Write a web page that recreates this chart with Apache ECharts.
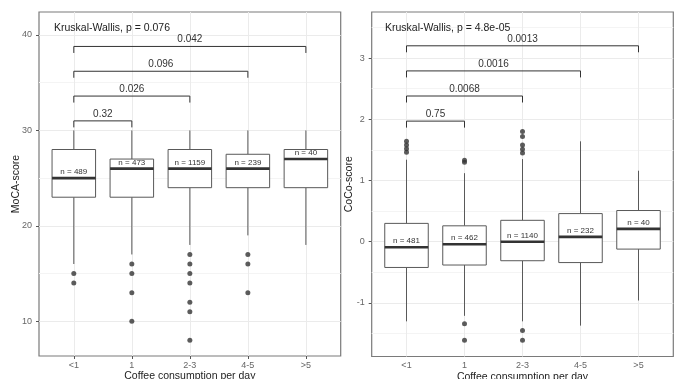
<!DOCTYPE html>
<html>
<head>
<meta charset="utf-8">
<script src="https://cdn.jsdelivr.net/npm/echarts@6/dist/echarts.min.js"></script>
<style>
  html, body { margin: 0; padding: 0; background: #fff; }
  #chart { width: 676px; height: 379px; }
</style>
</head>
<body>
<div id="chart"></div>
<script>
// categories on the x axis (placed at 1..5 on a value axis, ggplot style padding)
const categories = ['<1', '1', '2-3', '4-5', '>5']
const catPos = [1, 2, 3, 4, 5]

// MoCA panel: [x, lower whisker, Q1, median, Q3, upper whisker]
const mocaBoxes = [
  [1, 16, 23, 25, 28, 30],
  [2, 17, 23, 26, 27, 30],
  [3, 18, 24, 26, 28, 30],
  [4, 19, 24, 26, 27.5, 30],
  [5, 18, 24, 27, 28, 30]
]
const mocaN = [489, 473, 1159, 239, 40]
const mocaOutliers = [
  [1, 15], [1, 14],
  [2, 16], [2, 15], [2, 13], [2, 10],
  [3, 17], [3, 16], [3, 15], [3, 14], [3, 12], [3, 11], [3, 8],
  [4, 17], [4, 16], [4, 13]
]
// brackets: [from, to, height]
const mocaBrackets = [[1, 2, 31.0], [1, 3, 33.6], [1, 4, 36.2], [1, 5, 38.8]]
const mocaPLabels = ['0.32', '0.026', '0.096', '0.042']
const mocaTicks = [10, 20, 30, 40]
const mocaMinor = [15, 25, 35]

// CoCo panel
const cocoBoxes = [
  [1, -1.30, -0.42, -0.09, 0.30, 1.34],
  [2, -1.21, -0.38, -0.04, 0.26, 1.12],
  [3, -1.30, -0.31, 0.00, 0.35, 1.35],
  [4, -1.37, -0.34, 0.08, 0.46, 1.64],
  [5, -0.96, -0.12, 0.21, 0.51, 1.16]
]
const cocoN = [481, 462, 1140, 232, 40]
const cocoOutliers = [
  [1, 1.64], [1, 1.58], [1, 1.52], [1, 1.46],
  [2, 1.33], [2, 1.30], [2, -1.34], [2, -1.61],
  [3, 1.80], [3, 1.72], [3, 1.58], [3, 1.51], [3, 1.45], [3, -1.45], [3, -1.61]
]
const cocoBrackets = [[1, 2, 1.97], [1, 3, 2.38], [1, 4, 2.79], [1, 5, 3.20]]
const cocoPLabels = ['0.75', '0.0068', '0.0016', '0.0013']
const cocoTicks = [-1, 0, 1, 2, 3]
const cocoMinor = [-1.5, -0.5, 0.5, 1.5, 2.5, 3.5]

const FONT = '"Liberation Sans", Arial, sans-serif'

function makeBoxRender(nList) {
  return function (params, api) {
    const x = api.value(0)
    const lo = api.coord([x, api.value(1)])
    const q1 = api.coord([x, api.value(2)])
    const med = api.coord([x, api.value(3)])
    const q3 = api.coord([x, api.value(4)])
    const hi = api.coord([x, api.value(5)])
    const w = api.size([0.75, 0])[0]
    const cx = med[0]
    return {
      type: 'group',
      children: [
        { type: 'line', shape: { x1: cx, y1: lo[1], x2: cx, y2: q1[1] }, style: { stroke: '#595959', lineWidth: 1 } },
        { type: 'line', shape: { x1: cx, y1: q3[1], x2: cx, y2: hi[1] }, style: { stroke: '#595959', lineWidth: 1 } },
        { type: 'rect', shape: { x: cx - w / 2, y: q3[1], width: w, height: q1[1] - q3[1] },
          style: { fill: '#fff', stroke: '#595959', lineWidth: 1 } },
        { type: 'line', shape: { x1: cx - w / 2, y1: med[1], x2: cx + w / 2, y2: med[1] },
          style: { stroke: '#333', lineWidth: 2.6 } },
        { type: 'text', style: { text: 'n = ' + nList[params.dataIndex], x: cx, y: med[1] - 2,
          align: 'center', verticalAlign: 'bottom', fontSize: 8, fill: '#333', fontFamily: FONT } }
      ]
    }
  }
}

function makeBracketRender(labels) {
  return function (params, api) {
    const a = api.coord([api.value(0), api.value(2)])
    const b = api.coord([api.value(1), api.value(2)])
    const tip = 6.5
    return {
      type: 'group',
      children: [
        { type: 'polyline', shape: { points: [[a[0], a[1] + tip], [a[0], a[1]], [b[0], b[1]], [b[0], b[1] + tip]] },
          style: { stroke: '#333', fill: 'none', lineWidth: 1 } },
        { type: 'text', style: { text: labels[params.dataIndex], x: (a[0] + b[0]) / 2, y: a[1] - 2,
          align: 'center', verticalAlign: 'bottom', fontSize: 10, fill: '#333', fontFamily: FONT } }
      ]
    }
  }
}

function xAxisFor(gridIndex) {
  return {
    type: 'value', gridIndex: gridIndex, min: 0.4, max: 5.6,
    name: 'Coffee consumption per day', nameLocation: 'middle', nameGap: 15, nameMoveOverlap: false,
    nameTextStyle: { fontSize: 10.5, color: '#222', fontFamily: FONT },
    axisLine: { show: false },
    axisTick: { show: true, customValues: catPos, length: 3, lineStyle: { color: '#555' } },
    axisLabel: { customValues: catPos, margin: 5, fontSize: 9, color: '#666', fontFamily: FONT,
      formatter: v => categories[Math.round(v) - 1] },
    splitLine: { show: true, lineStyle: { color: '#ebebeb', width: 1 } }
  }
}

function yAxisFor(gridIndex, min, max, ticks, name) {
  return {
    type: 'value', gridIndex: gridIndex, min: min, max: max, position: 'left',
    name: name, nameLocation: 'middle', nameGap: 17, nameMoveOverlap: false,
    nameTextStyle: { fontSize: 10.5, color: '#222', fontFamily: FONT },
    axisLine: { show: false },
    axisTick: { show: true, customValues: ticks, length: 3, lineStyle: { color: '#555' } },
    axisLabel: { customValues: ticks, margin: 7, fontSize: 9, color: '#666', fontFamily: FONT },
    splitLine: { show: true, lineStyle: { color: '#ebebeb', width: 1 } }
  }
}

// minor grid lines through a hidden second y axis
function minorAxisFor(gridIndex, min, max, ticks) {
  return {
    type: 'value', gridIndex: gridIndex, min: min, max: max,
    axisLine: { show: false },
    axisTick: { show: false, customValues: ticks },
    axisLabel: { show: false, customValues: ticks },
    splitLine: { show: true, lineStyle: { color: '#f4f4f4', width: 1 } }
  }
}

const chart = echarts.init(document.getElementById('chart'))
const option = {
  animation: false,
  backgroundColor: '#fff',
  title: [
    { text: 'Kruskal-Wallis, p = 0.076', left: 49, top: 18,
      textStyle: { fontSize: 10.5, fontWeight: 'normal', color: '#222', fontFamily: FONT } },
    { text: 'Kruskal-Wallis, p = 4.8e-05', left: 380, top: 18,
      textStyle: { fontSize: 10.5, fontWeight: 'normal', color: '#222', fontFamily: FONT } }
  ],
  grid: [
    { left: 39, top: 12, width: 301.7, height: 344, show: true, outerBoundsMode: 'none', containLabel: false,
      borderColor: '#7a7a7a', borderWidth: 1.2, backgroundColor: 'transparent' },
    { left: 371.7, top: 12, width: 301.6, height: 344.5, show: true, outerBoundsMode: 'none', containLabel: false,
      borderColor: '#7a7a7a', borderWidth: 1.2, backgroundColor: 'transparent' }
  ],
  xAxis: [xAxisFor(0), xAxisFor(1)],
  yAxis: [
    yAxisFor(0, 6.36, 42.41, mocaTicks, 'MoCA-score'),
    minorAxisFor(0, 6.36, 42.41, mocaMinor),
    yAxisFor(1, -1.874, 3.752, cocoTicks, 'CoCo-score'),
    minorAxisFor(1, -1.874, 3.752, cocoMinor)
  ],
  series: [
    { type: 'custom', xAxisIndex: 0, yAxisIndex: 0, data: mocaBoxes, renderItem: makeBoxRender(mocaN), z: 2 },
    { type: 'scatter', xAxisIndex: 0, yAxisIndex: 0, data: mocaOutliers, symbolSize: 5,
      itemStyle: { color: '#333' }, z: 3 },
    { type: 'custom', xAxisIndex: 0, yAxisIndex: 0, data: mocaBrackets, renderItem: makeBracketRender(mocaPLabels), z: 3 },
    { type: 'custom', xAxisIndex: 1, yAxisIndex: 2, data: cocoBoxes, renderItem: makeBoxRender(cocoN), z: 2 },
    { type: 'scatter', xAxisIndex: 1, yAxisIndex: 2, data: cocoOutliers, symbolSize: 5,
      itemStyle: { color: '#333' }, z: 3 },
    { type: 'custom', xAxisIndex: 1, yAxisIndex: 2, data: cocoBrackets, renderItem: makeBracketRender(cocoPLabels), z: 3 }
  ]
}
chart.setOption(option)
</script>
</body>
</html>
